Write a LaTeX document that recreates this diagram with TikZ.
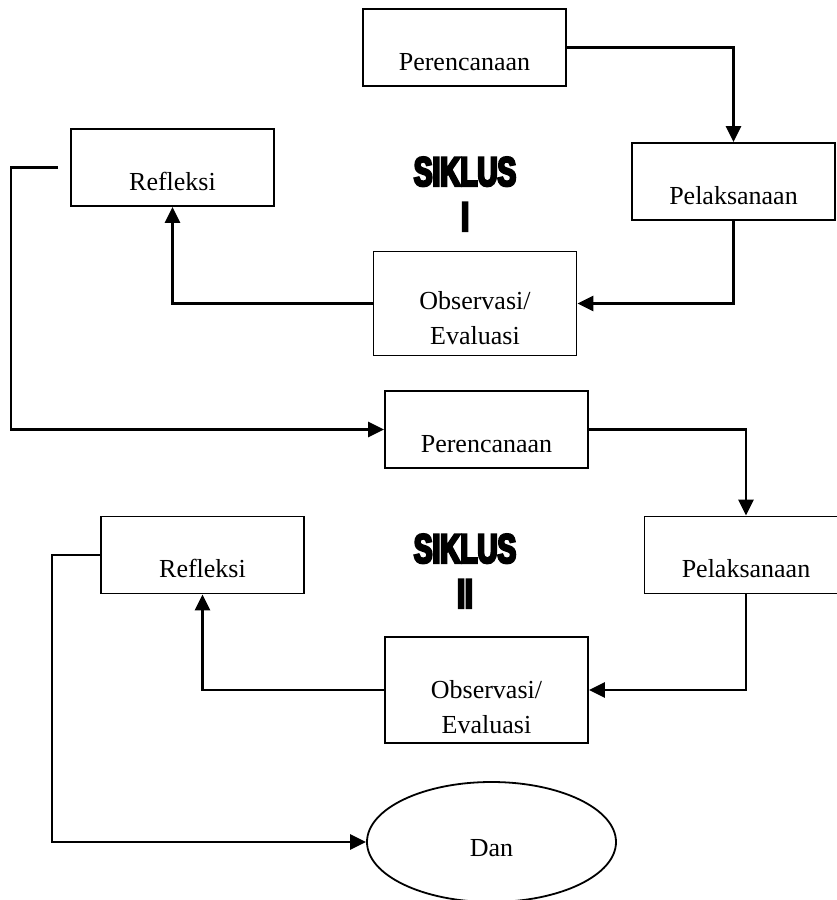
\documentclass[tikz,border=0pt]{standalone}
\usepackage{fontspec}
\setmainfont{Liberation Serif}
\newfontfamily\siklusfont[FakeStretch=0.68,FakeBold=6]{Liberation Sans}
\usetikzlibrary{arrows.meta,shapes.geometric}
\tikzset{
  kotak/.style={draw,line width=1.8pt,minimum width=203pt,minimum height=77pt,inner sep=0pt,text height=61pt,text depth=16pt},
  kotakobs/.style={kotak,align=center,minimum height=104pt,text height=93pt,text depth=11pt},
  panah/.style={line width=2.6pt,-{Triangle[length=16pt,width=15pt]}},
  siklus/.style={align=center,font=\siklusfont\bfseries\fontsize{41}{45}\selectfont}
}
\begin{document}
\begin{tikzpicture}[x=1pt,y=-1pt,font=\fontsize{26}{35}\selectfont]
\useasboundingbox (0,0) rectangle (836,900);
\node[kotak] (pr1) at (464.5,47.5) {Perencanaan};
\node[kotak] (pl1) at (733.5,181.5) {Pelaksanaan};
\node[kotakobs] (ob1) at (475,303.5) {Observasi/\\Evaluasi};
\node[kotak] (rf1) at (172.5,167.5) {Refleksi};
\node[siklus] (sk1) at (465,194) {SIKLUS\\I};
\node[kotak] (pr2) at (486.5,429.5) {Perencanaan};
\node[kotak] (pl2) at (746,555) {Pelaksanaan};
\node[kotakobs,minimum height=106pt,text height=96pt,text depth=10pt] (ob2) at (486.5,690) {Observasi/\\Evaluasi};
\node[kotak] (rf2) at (202.5,555) {Refleksi};
\node[siklus] (sk2) at (465,571) {SIKLUS\\II};
\node[draw,line width=1.8pt,ellipse,minimum width=249pt,minimum height=120pt,text height=29pt,text depth=0pt] (dan) at (491.5,842) {Dan};
\coordinate (rf1ujung) at ([xshift=-12pt]rf1.west);
\draw[panah] (pr1.east) -| (pl1.north);
\draw[panah] (pl1.south) |- (ob1.east);
\draw[panah] (ob1.west) -| (rf1.south);
\draw[panah] (rf1ujung) -- ++(-47,0) |- (pr2.west);
\draw[panah] (pr2.east) -| (pl2.north);
\draw[panah] (pl2.south) |- (ob2.east);
\draw[panah] (ob2.west) -| (rf2.south);
\draw[panah] (rf2.west) -- ++(-48,0) |- (dan.west);
\end{tikzpicture}
\end{document}
